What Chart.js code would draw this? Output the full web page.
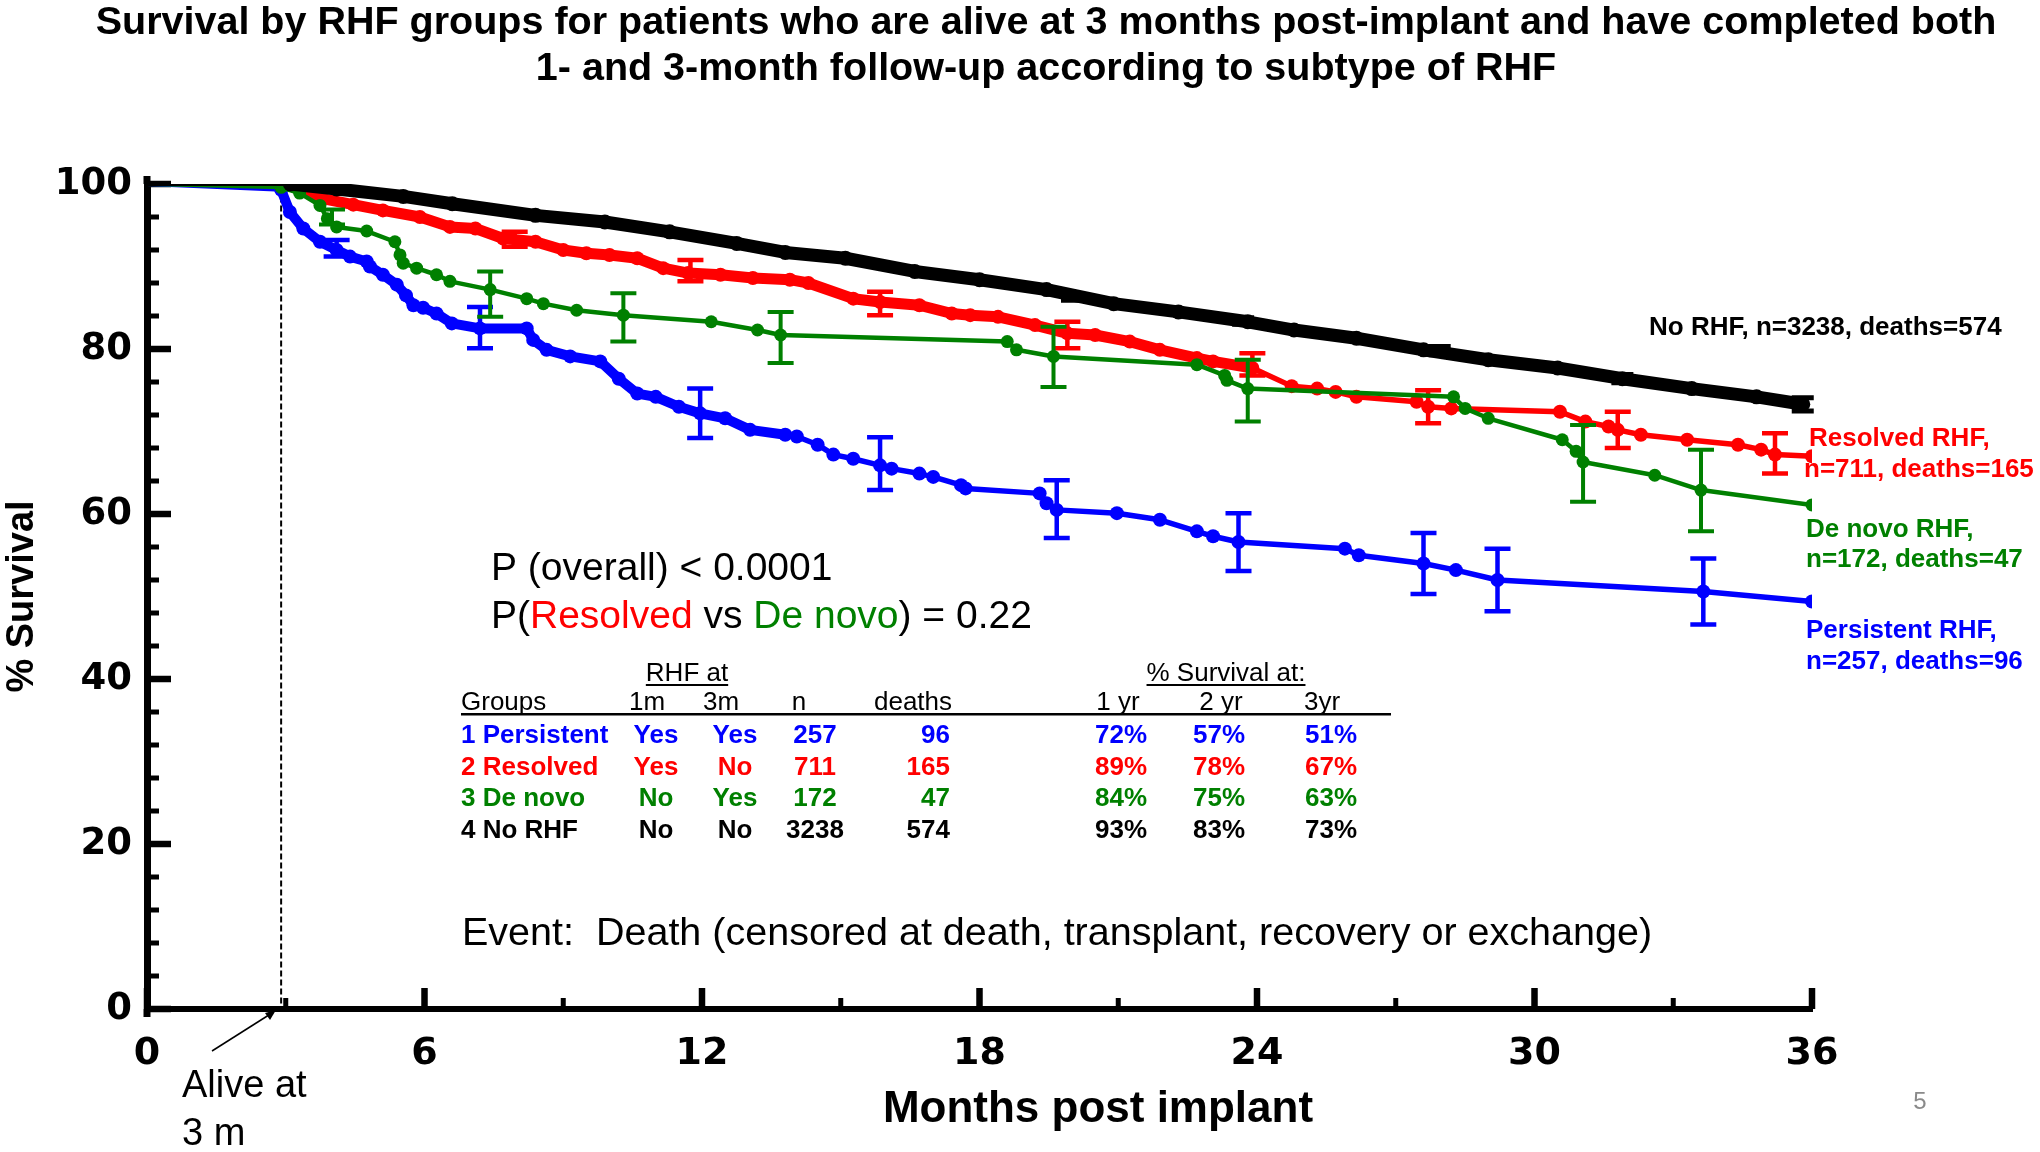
<!DOCTYPE html>
<html>
<head>
<meta charset="utf-8">
<script src="https://cdn.jsdelivr.net/npm/chart.js@4/dist/chart.umd.min.js"></script>
<style>
html,body{margin:0;padding:0;background:#ffffff;}
#wrap{width:2040px;height:1152px;position:relative;}
</style>
</head>
<body>
<div id="wrap"><canvas id="c" width="2040" height="1152"></canvas></div>
<script>
// ---------------- DATA ----------------
const titleLines = [
  'Survival by RHF groups for patients who are alive at 3 months post-implant and have completed both',
  '1- and 3-month follow-up according to subtype of RHF'
];
const xAxisTitle = 'Months post implant';
const yAxisTitle = '% Survival';

// No RHF (black)
const noRhfX = [0, 3.1, 4.1, 5.54, 6.6, 8.4, 9.9, 11.3, 12.75, 13.8, 15.1, 16.6, 18.0, 19.45, 20.9, 22.3, 23.8, 24.8, 26.15, 27.6, 29.0, 30.5, 31.9, 33.4, 34.8, 35.8];
const noRhfY = [100, 100, 99.4, 98.5, 97.6, 96.2, 95.4, 94.2, 92.8, 91.7, 91.0, 89.4, 88.4, 87.2, 85.5, 84.5, 83.3, 82.3, 81.3, 79.9, 78.7, 77.7, 76.4, 75.2, 74.2, 73.3];
const noRhfErrX  = [20.0, 23.7, 27.95, 31.9, 35.8];
const noRhfErrLo = [85.9, 83.0, 79.3, 75.9, 72.5];
const noRhfErrHi = [86.7, 83.8, 80.3, 76.9, 74.1];

// De novo RHF (green)
const deNovoX = [0, 2.9, 3.3, 3.74, 3.9, 4.1, 4.75, 5.36, 5.47, 5.54, 5.83, 6.26, 6.55, 7.42, 8.21, 8.57, 9.29, 10.3, 12.2, 13.2, 13.7, 18.6, 18.8, 19.6, 22.7, 23.3, 23.35, 23.8, 28.25, 28.5, 29.0, 30.6, 30.9, 31.05, 32.6, 33.6, 36];
const deNovoY = [100, 99.6, 98.9, 97.4, 95.8, 94.8, 94.3, 93.0, 91.4, 90.4, 89.8, 89.0, 88.2, 87.2, 86.1, 85.5, 84.7, 84.1, 83.3, 82.3, 81.7, 80.9, 79.9, 79.1, 78.1, 76.8, 76.2, 75.2, 74.2, 72.8, 71.6, 69.0, 67.6, 66.3, 64.7, 62.9, 61.1];
const deNovoErrX  = [4.0, 7.42, 10.3, 13.7, 19.6, 23.8, 31.05, 33.6];
const deNovoErrLo = [95.1, 83.9, 80.9, 78.3, 75.4, 71.2, 61.5, 57.9];
const deNovoErrHi = [96.9, 89.4, 86.75, 84.5, 82.7, 78.7, 70.8, 67.8];

// Resolved RHF (red)
const resolvedX = [0, 3.0, 3.74, 4.46, 5.1, 5.9, 6.55, 7.1, 7.7, 8.4, 9.0, 9.5, 10.0, 10.6, 11.16, 11.7, 12.4, 13.1, 13.9, 14.3, 15.27, 15.85, 16.7, 17.4, 17.8, 18.4, 19.2, 19.9, 20.5, 21.25, 21.9, 22.7, 23.05, 23.9, 24.75, 25.3, 25.7, 26.15, 27.45, 27.7, 28.2, 30.55, 31.1, 31.6, 31.8, 32.3, 33.3, 34.4, 34.9, 35.2, 36];
const resolvedY = [100, 100, 98.3, 97.5, 96.8, 96.0, 94.8, 94.6, 93.4, 93.0, 92.0, 91.6, 91.4, 91.0, 89.8, 89.2, 89.0, 88.6, 88.4, 88.0, 86.1, 85.7, 85.3, 84.3, 84.1, 83.9, 82.9, 81.9, 81.7, 80.9, 79.9, 78.9, 78.5, 77.7, 75.5, 75.2, 74.8, 74.2, 73.6, 73.0, 72.8, 72.4, 71.2, 70.6, 70.2, 69.6, 69.0, 68.4, 67.8, 67.2, 67.0];
const resolvedErrX  = [7.95, 11.75, 15.85, 19.9, 23.9, 27.7, 31.8, 35.2];
const resolvedErrLo = [92.4, 88.2, 84.1, 80.1, 76.8, 71.0, 68.0, 64.9];
const resolvedErrHi = [94.2, 90.8, 86.95, 83.3, 79.5, 75.0, 72.4, 69.8];

// Persistent RHF (blue)
const persistentX = [0, 2.9, 3.09, 3.38, 3.74, 4.1, 4.39, 4.75, 4.82, 5.1, 5.4, 5.6, 5.76, 5.97, 6.26, 6.59, 7.2, 8.21, 8.35, 8.64, 9.15, 9.8, 10.2, 10.6, 11.0, 11.5, 11.96, 12.5, 13.04, 13.8, 14.05, 14.5, 14.84, 15.27, 15.85, 16.1, 16.7, 17.0, 17.6, 17.7, 19.3, 19.45, 19.67, 20.97, 21.9, 22.7, 23.05, 23.6, 25.9, 26.2, 27.6, 28.3, 29.2, 33.65, 36];
const persistentY = [100, 99.3, 96.6, 94.6, 93.0, 92.0, 91.2, 90.6, 90.0, 89.0, 87.8, 86.5, 85.3, 85.0, 84.3, 83.1, 82.5, 82.5, 81.1, 79.9, 79.1, 78.5, 76.4, 74.6, 74.2, 73.0, 72.2, 71.6, 70.2, 69.6, 69.4, 68.4, 67.2, 66.7, 65.9, 65.5, 64.9, 64.5, 63.5, 63.1, 62.5, 61.3, 60.5, 60.1, 59.3, 57.9, 57.3, 56.6, 55.8, 55.0, 54.0, 53.2, 52.0, 50.6, 49.4];
const persistentErrX  = [4.1, 7.2, 11.96, 15.85, 19.67, 23.6, 27.6, 29.2, 33.65];
const persistentErrLo = [91.2, 80.1, 69.2, 62.9, 57.1, 53.1, 50.3, 48.2, 46.6];
const persistentErrHi = [93.2, 85.1, 75.2, 69.3, 64.1, 60.1, 57.7, 55.8, 54.6];

// Summary table
const tableGroups = ['1 Persistent', '2 Resolved', '3 De novo', '4 No RHF'];
const tableRhf1m  = ['Yes', 'Yes', 'No', 'No'];
const tableRhf3m  = ['Yes', 'No', 'Yes', 'No'];
const tableN      = ['257', '711', '172', '3238'];
const tableDeaths = ['96', '165', '47', '574'];
const tableSurv1  = ['72%', '89%', '84%', '93%'];
const tableSurv2  = ['57%', '78%', '75%', '83%'];
const tableSurv3  = ['51%', '67%', '63%', '73%'];

const endLabels = [
  ['No RHF, n=3238, deaths=574'],
  ['Resolved RHF,', 'n=711, deaths=165'],
  ['De novo RHF,', 'n=172, deaths=47'],
  ['Persistent RHF,', 'n=257, deaths=96']
];

// ---------------- STYLE ----------------
const BLACK = '#000000', RED = '#FF0000', GREEN = '#008000', BLUE = '#0000FF';
const groupColors = [BLUE, RED, GREEN, BLACK];
const SANS = '"Liberation Sans", Arial, Helvetica, sans-serif';
const TICKFONT = '"DejaVu Sans", "Liberation Sans", sans-serif';

function pts(xs, ys) { return xs.map((x, i) => ({x: x, y: ys[i]})); }

function makeSet(label, xs, ys, color, thickW, thinW, thickUntil, radius, ex, elo, ehi, capHalf, errW) {
  return {
    label: label,
    data: pts(xs, ys),
    borderColor: color,
    backgroundColor: color,
    pointBackgroundColor: color,
    pointBorderWidth: 0,
    pointRadius: ctx => ctx.dataIndex === 0 ? 0 : radius,
    pointHoverRadius: radius,
    tension: 0,
    borderWidth: thinW,
    borderJoinStyle: 'round',
    borderCapStyle: 'round',
    segment: {
      borderWidth: ctx => {
        if (ctx.p0DataIndex === 0) return 4;
        return ctx.p1.parsed.x <= thickUntil ? thickW : thinW;
      }
    },
    errX: ex, errLo: elo, errHi: ehi, capHalf: capHalf, errW: errW
  };
}

const datasets = [
  makeSet('No RHF', noRhfX, noRhfY, BLACK, 13, 13, 99, 7.5, noRhfErrX, noRhfErrLo, noRhfErrHi, 11, 5),
  makeSet('De novo RHF', deNovoX, deNovoY, GREEN, 5, 4.5, 0, 6.5, deNovoErrX, deNovoErrLo, deNovoErrHi, 13, 4),
  makeSet('Resolved RHF', resolvedX, resolvedY, RED, 11, 5.5, 24, 7, resolvedErrX, resolvedErrLo, resolvedErrHi, 13, 4.5),
  makeSet('Persistent RHF', persistentX, persistentY, BLUE, 10, 5.5, 13.8, 7, persistentErrX, persistentErrLo, persistentErrHi, 13, 4.5)
];

// ---------------- PLUGIN ----------------
function txt(ctx, s, x, y, font, color, align) {
  ctx.font = font;
  ctx.fillStyle = color;
  ctx.textAlign = align || 'left';
  ctx.textBaseline = 'alphabetic';
  ctx.fillText(s, x, y);
}

const overlay = {
  id: 'overlay',
  beforeDatasetsDraw(chart) {
    const ctx = chart.ctx, xs = chart.scales.x, ys = chart.scales.y;
    const L = chart.chartArea.left, B = chart.chartArea.bottom;
    ctx.save();
    ctx.strokeStyle = '#000';
    ctx.lineCap = 'butt';
    // y ticks (inside)
    for (let v = 0; v <= 100; v += 4) {
      const py = ys.getPixelForValue(v);
      const len = v % 20 === 0 ? 21 : 9;
      ctx.lineWidth = v % 20 === 0 ? 6.5 : 5;
      ctx.beginPath(); ctx.moveTo(L, py); ctx.lineTo(L + 3 + len, py); ctx.stroke();
    }
    // x ticks (inside)
    for (let m = 0; m <= 36; m += 3) {
      const px = xs.getPixelForValue(m);
      const len = m % 6 === 0 ? 18 : 8;
      ctx.lineWidth = m % 6 === 0 ? 6.5 : 5;
      ctx.beginPath(); ctx.moveTo(px, B); ctx.lineTo(px, B - 3 - len); ctx.stroke();
    }
    // extend y axis slightly below x axis and above the top
    ctx.lineWidth = 7;
    ctx.beginPath(); ctx.moveTo(L, B); ctx.lineTo(L, B + 8); ctx.stroke();
    ctx.beginPath(); ctx.moveTo(L, chart.chartArea.top); ctx.lineTo(L, chart.chartArea.top - 8); ctx.stroke();
    // dashed line at ~3 months
    const dx = xs.getPixelForValue(2.9);
    ctx.lineWidth = 2;
    ctx.setLineDash([6, 3]);
    ctx.beginPath(); ctx.moveTo(dx, ys.getPixelForValue(98.5)); ctx.lineTo(dx, B); ctx.stroke();
    ctx.setLineDash([]);
    ctx.restore();
  },
  afterDatasetDraw(chart, args) {
    const ds = chart.data.datasets[args.index];
    if (!ds.errX) return;
    const ctx = chart.ctx, xs = chart.scales.x, ys = chart.scales.y;
    ctx.save();
    ctx.strokeStyle = ds.borderColor;
    ctx.lineWidth = ds.errW;
    ctx.lineCap = 'butt';
    ds.errX.forEach((xv, i) => {
      const px = xs.getPixelForValue(xv);
      const lo = ys.getPixelForValue(ds.errLo[i]);
      const hi = ys.getPixelForValue(ds.errHi[i]);
      const c = ds.capHalf;
      ctx.beginPath();
      ctx.moveTo(px, lo); ctx.lineTo(px, hi);
      ctx.moveTo(px - c, lo); ctx.lineTo(px + c, lo);
      ctx.moveTo(px - c, hi); ctx.lineTo(px + c, hi);
      ctx.stroke();
    });
    ctx.restore();
  },
  afterDraw(chart) {
    const ctx = chart.ctx;
    ctx.save();
    // x-axis title
    txt(ctx, xAxisTitle, 1098, 1122, 'bold 44px ' + SANS, '#000', 'center');

    // P values
    const pFont = '39px ' + SANS;
    txt(ctx, 'P (overall) < 0.0001', 491, 580, pFont, '#000');
    const parts = [['P(', '#000'], ['Resolved', RED], [' vs ', '#000'], ['De novo', GREEN], [') = 0.22', '#000']];
    let cx = 491;
    ctx.font = pFont;
    parts.forEach(p => { txt(ctx, p[0], cx, 628, pFont, p[1]); cx += ctx.measureText(p[0]).width; });

    // table
    const hFont = '26px ' + SANS, bFont = 'bold 26px ' + SANS;
    function underlined(s, x, y, align, ulY) {
      txt(ctx, s, x, y, hFont, '#000', align);
      const w = ctx.measureText(s).width;
      const x0 = align === 'center' ? x - w / 2 : x;
      ctx.fillStyle = '#000';
      ctx.fillRect(x0, ulY, w, 2);
    }
    underlined('RHF at', 687, 681, 'center', 684);
    underlined('% Survival at:', 1226, 681, 'center', 684);
    txt(ctx, 'Groups', 461, 710, hFont, '#000');
    txt(ctx, '1m', 647, 710, hFont, '#000', 'center');
    txt(ctx, '3m', 721, 710, hFont, '#000', 'center');
    txt(ctx, 'n', 799, 710, hFont, '#000', 'center');
    txt(ctx, 'deaths', 913, 710, hFont, '#000', 'center');
    txt(ctx, '1 yr', 1118, 710, hFont, '#000', 'center');
    txt(ctx, '2 yr', 1221, 710, hFont, '#000', 'center');
    txt(ctx, '3yr', 1322, 710, hFont, '#000', 'center');
    ctx.fillStyle = '#000';
    ctx.fillRect(461, 713, 930, 2.5);
    for (let r = 0; r < 4; r++) {
      const y = 743 + r * 31.7, col = groupColors[r];
      txt(ctx, tableGroups[r], 461, y, bFont, col);
      txt(ctx, tableRhf1m[r], 656, y, bFont, col, 'center');
      txt(ctx, tableRhf3m[r], 735, y, bFont, col, 'center');
      txt(ctx, tableN[r], 815, y, bFont, col, 'center');
      txt(ctx, tableDeaths[r], 950, y, bFont, col, 'right');
      txt(ctx, tableSurv1[r], 1147, y, bFont, col, 'right');
      txt(ctx, tableSurv2[r], 1245, y, bFont, col, 'right');
      txt(ctx, tableSurv3[r], 1357, y, bFont, col, 'right');
    }

    // event note
    txt(ctx, 'Event:  Death (censored at death, transplant, recovery or exchange)', 462, 945, '39.5px ' + SANS, '#000');

    // end-of-curve labels
    const lFont = 'bold 26px ' + SANS;
    txt(ctx, endLabels[0][0], 1649, 335, lFont, BLACK);
    txt(ctx, endLabels[1][0], 1809, 446, lFont, RED);
    txt(ctx, endLabels[1][1], 1804, 477, lFont, RED);
    txt(ctx, endLabels[2][0], 1806, 537, lFont, GREEN);
    txt(ctx, endLabels[2][1], 1806, 567, lFont, GREEN);
    txt(ctx, endLabels[3][0], 1806, 638, lFont, BLUE);
    txt(ctx, endLabels[3][1], 1806, 669, lFont, BLUE);

    // "Alive at 3 m" annotation with arrow
    txt(ctx, 'Alive at', 182, 1097, '38px ' + SANS, '#000');
    txt(ctx, '3 m', 182, 1145, '38px ' + SANS, '#000');
    ctx.strokeStyle = '#000';
    ctx.lineWidth = 1.5;
    ctx.beginPath(); ctx.moveTo(212, 1051); ctx.lineTo(272, 1013); ctx.stroke();
    ctx.fillStyle = '#000';
    ctx.beginPath(); ctx.moveTo(276, 1010); ctx.lineTo(265, 1013); ctx.lineTo(270, 1020); ctx.closePath(); ctx.fill();

    // page number
    txt(ctx, '5', 1920, 1109, '24px ' + SANS, '#8a8a8a', 'center');
    ctx.restore();
  }
};

// ---------------- CHART ----------------
new Chart(document.getElementById('c'), {
  type: 'line',
  data: { datasets: datasets },
  options: {
    responsive: false,
    animation: false,
    devicePixelRatio: 1,
    layout: { padding: { left: 52, right: 0, top: 0, bottom: 0 } },
    plugins: {
      legend: { display: false },
      tooltip: { enabled: false },
      title: {
        display: true,
        text: titleLines,
        color: '#000',
        font: { family: SANS, size: 39.5, weight: 'bold', lineHeight: 46 / 39.5 },
        padding: { top: 0, bottom: 92 }
      }
    },
    scales: {
      x: {
        type: 'linear',
        min: 0, max: 36,
        afterFit: s => { s.height = 143; },
        ticks: { stepSize: 6, padding: 22, maxRotation: 0, color: '#000', font: { family: TICKFONT, size: 38, weight: 'bold' } },
        grid: { display: false, drawTicks: false },
        border: { display: true, width: 6, color: '#000' },
        title: { display: false, text: xAxisTitle }
      },
      y: {
        type: 'linear',
        min: 0, max: 100,
        afterFit: s => { s.width = 95; },
        ticks: { stepSize: 20, padding: 15, color: '#000', font: { family: TICKFONT, size: 37, weight: 'bold' } },
        grid: { display: false, drawTicks: false },
        border: { display: true, width: 7, color: '#000' },
        title: { display: true, text: yAxisTitle, color: '#000', font: { family: SANS, size: 38, weight: 'bold', lineHeight: 1.2 }, padding: { top: -52, bottom: 0 } }
      },
      yR: {
        type: 'linear',
        position: 'right',
        min: 0, max: 100,
        afterFit: s => { s.width = 228; },
        ticks: { display: false },
        grid: { display: false, drawTicks: false },
        border: { display: false },
        title: { display: false }
      }
    }
  },
  plugins: [overlay]
});
</script>
</body>
</html>
